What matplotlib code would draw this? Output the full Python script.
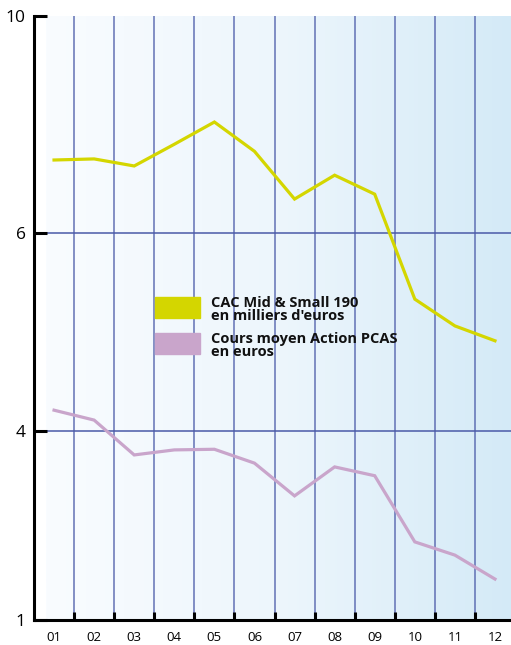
import numpy as np
import matplotlib
matplotlib.use("Agg")
import matplotlib.pyplot as plt
from matplotlib.patches import Rectangle

# data
years = ["01", "02", "03", "04", "05", "06", "07", "08", "09", "10", "11", "12"]
cac_mid_small = [7.34, 7.36, 7.23, 7.63, 8.04, 7.50, 6.62, 7.06, 6.71, 5.33, 5.06, 4.91]
pcas_price = [4.21, 4.11, 3.62, 3.70, 3.71, 3.49, 2.97, 3.43, 3.29, 2.24, 2.03, 1.65]
y_ticks = [1, 4, 6, 10]
legend_labels = ["CAC Mid & Small 190\nen milliers d'euros",
                 "Cours moyen Action PCAS\nen euros"]

YELLOW = "#d4d600"
PURPLE = "#c9a5cb"
GRID = "#4a5aa8"

# the original axis is not linear: each labelled step gets roughly the same height
_vals = [1, 4, 6, 10]
_pos = [0.0, 189.0, 387.3, 604.3]


def fwd(v):
    return np.interp(v, _vals, _pos)


def inv(p):
    return np.interp(p, _pos, _vals)


plt.rcParams["font.family"] = ["Open Sans", "DejaVu Sans"]

fig = plt.figure(figsize=(5.11, 6.45), dpi=100)
W, H = 511, 645
ax = fig.add_axes([34 / W, 25 / H, 1 - 34 / W, (620 - 15.7) / H])
ax.set_yscale("function", functions=(fwd, inv))

x = np.arange(len(years))
ax.set_xlim(-0.5, 11.4)
ax.set_ylim(1, 10)

# background gradient (white -> light blue)
grad = np.linspace(0, 1, 256).reshape(1, -1)
cmap = matplotlib.colors.LinearSegmentedColormap.from_list(
    "bg", ["#f9fcff", "#edf6fc", "#d4eaf7"])
ax.imshow(grad, cmap=cmap, extent=[0.025, 1, 0, 1], transform=ax.transAxes,
          aspect="auto", zorder=0)

for b in x[:-1] + 0.5:
    ax.axvline(b, color=GRID, lw=1.1, alpha=0.85, zorder=1)
for yv in [4, 6]:
    ax.axhline(yv, xmin=0.025, color=GRID, lw=1.1, zorder=1)

ax.plot(x, cac_mid_small, color=YELLOW, lw=2.3, zorder=3, solid_joinstyle="miter")
ax.plot(x, pcas_price, color=PURPLE, lw=2.3, zorder=3, solid_joinstyle="miter")

for s in ["top", "right"]:
    ax.spines[s].set_visible(False)
for s in ["left", "bottom"]:
    ax.spines[s].set_linewidth(2.2)
    ax.spines[s].set_zorder(4)

ax.set_yticks(y_ticks)
ax.set_yticklabels([str(t) for t in y_ticks], fontsize=12.5)
ax.tick_params(axis="y", direction="in", length=9, width=2.2, pad=6)

ax.set_xticks(x[:-1] + 0.5)
ax.set_xticklabels([])
ax.set_xticks(x, minor=True)
ax.set_xticklabels(years, minor=True, fontsize=9.5)
ax.tick_params(axis="x", which="major", direction="in", length=6, width=2.2)
ax.tick_params(axis="x", which="minor", length=0, pad=8)

# legend drawn by hand, as in the original
colors = [YELLOW, PURPLE]
tops = [297, 333]
for c, t, lab in zip(colors, tops, legend_labels):
    fig.patches.append(Rectangle((155 / W, 1 - (t + 21) / H), 45 / W, 21 / H,
                                 transform=fig.transFigure, color=c, zorder=5))
    fig.text(211 / W, 1 - (t - 1) / H, lab, fontsize=10.5, fontweight="bold",
             va="top", ha="left", linespacing=0.88, color="#111111", zorder=6)

fig.savefig("out.png", dpi=100)
